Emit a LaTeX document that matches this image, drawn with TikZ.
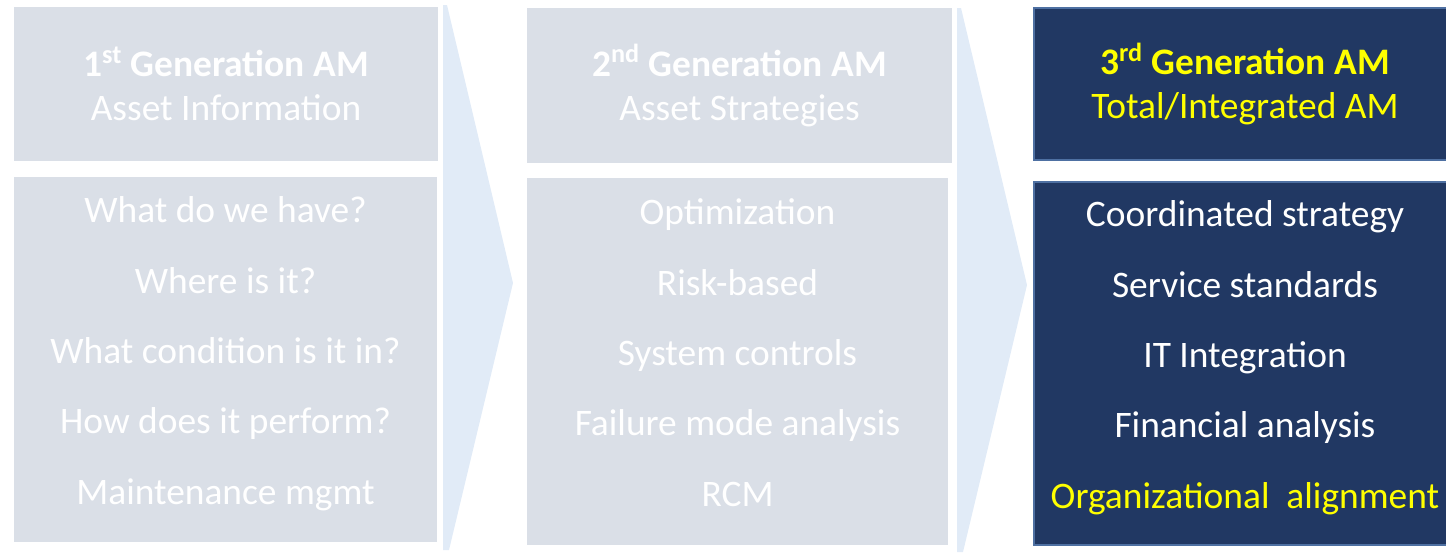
\documentclass[tikz,border=0pt]{standalone}
\usepackage{fontspec}
\setmainfont{Carlito}
\usetikzlibrary{positioning}

\definecolor{fadegray}{RGB}{218,223,231}
\definecolor{fadeblue}{RGB}{225,235,247}
\definecolor{navyfill}{RGB}{33,56,99}
\definecolor{navyedge}{RGB}{78,112,162}
\definecolor{amyellow}{RGB}{255,255,0}

\tikzset{
  oldbox/.style={fill=fadegray, text=white, inner sep=0pt, align=center},
  newbox/.style={fill=navyfill, draw=navyedge, line width=1.5pt, text=white, inner sep=0pt, align=center},
  headfont/.style={font=\fontsize{21.3}{25}\selectfont},
  listfont/.style={font=\fontsize{21.3}{40}\selectfont, text depth=0.36cm},
  chevron/.style={fill=fadeblue}
}

\begin{document}
\begin{tikzpicture}[x=0.02cm, y=-0.02cm]
    \useasboundingbox (0,0) rectangle (1446,552);
    \clip (0,0) rectangle (1446,552);

    % the two chevrons between the generations
    \fill[chevron] (443,5) -- (447,5) -- (513,283) -- (449,550) -- (443,550) -- cycle;
    \fill[chevron] (957,8) -- (961,8) -- (1027,285) -- (963,552) -- (957,552) -- cycle;

    % first generation
    \node[oldbox, headfont, minimum width=8.48cm, minimum height=3.1cm] (gen1head) at (226,84)
      {\textbf{1\textsuperscript{st} Generation AM}\\Asset Information};
    \node[oldbox, listfont, minimum width=8.46cm, minimum height=7.3cm] (gen1list) at (225.5,359.5)
      {What do we have?\\Where is it?\\What condition is it in?\\How does it perform?\\Maintenance mgmt};

    % second generation
    \node[oldbox, headfont, minimum width=8.5cm, minimum height=3.1cm] (gen2head) at (739.5,85.5)
      {\textbf{2\textsuperscript{nd} Generation AM}\\Asset Strategies};
    \node[oldbox, listfont, minimum width=8.42cm, minimum height=7.34cm] (gen2list) at (737.5,361.5)
      {Optimization\\Risk-based\\System controls\\Failure mode analysis\\RCM};

    % third generation
    \node[newbox, headfont, text=amyellow, minimum width=8.44cm, minimum height=3.04cm] (gen3head) at (1245,84)
      {\textbf{3\textsuperscript{rd} Generation AM}\\Total/Integrated AM};
    \node[newbox, listfont, minimum width=8.44cm, minimum height=7.26cm] (gen3list) at (1245,363.5)
      {Coordinated strategy\\Service standards\\IT Integration\\Financial analysis\\\textcolor{amyellow}{Organizational\ \ alignment}};
\end{tikzpicture}
\end{document}
